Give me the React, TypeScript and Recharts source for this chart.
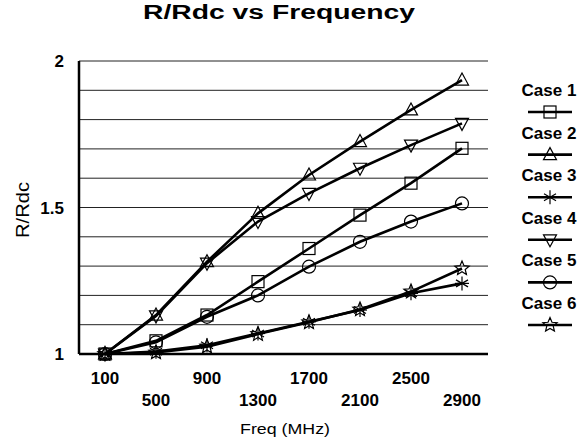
import React from "react";
import { LineChart, Line, XAxis, YAxis, CartesianGrid } from "recharts";

const freqs = ["100", "500", "900", "1300", "1700", "2100", "2500", "2900"];
const case1 = [1.0, 1.045, 1.133, 1.247, 1.36, 1.474, 1.583, 1.702];
const case2 = [1.0, 1.133, 1.315, 1.48, 1.611, 1.725, 1.833, 1.935];
const case3 = [1.0, 1.008, 1.03, 1.07, 1.11, 1.15, 1.207, 1.241];
const case4 = [1.0, 1.13, 1.31, 1.452, 1.548, 1.634, 1.713, 1.787];
const case5 = [1.0, 1.04, 1.127, 1.2, 1.298, 1.383, 1.452, 1.514];
const case6 = [1.0, 1.005, 1.025, 1.068, 1.108, 1.152, 1.213, 1.292];

const yTicks = [1, 1.5, 2];
const gridValues = [1.1, 1.2, 1.3, 1.4, 1.5, 1.6, 1.7, 1.8, 1.9, 2];

type Shape = "square" | "triUp" | "asterisk" | "triDown" | "circle" | "star";

const series: { key: string; name: string; values: number[]; shape: Shape }[] = [
  { key: "c1", name: "Case 1", values: case1, shape: "square" },
  { key: "c2", name: "Case 2", values: case2, shape: "triUp" },
  { key: "c3", name: "Case 3", values: case3, shape: "asterisk" },
  { key: "c4", name: "Case 4", values: case4, shape: "triDown" },
  { key: "c5", name: "Case 5", values: case5, shape: "circle" },
  { key: "c6", name: "Case 6", values: case6, shape: "star" },
];

const data = freqs.map((f, i) => {
  const row: Record<string, string | number> = { freq: f };
  series.forEach((s) => (row[s.key] = s.values[i]));
  return row;
});

function starPoints(cx: number, cy: number, r: number) {
  const pts: string[] = [];
  for (let i = 0; i < 10; i++) {
    const rad = i % 2 === 0 ? r : r * 0.45;
    const a = -Math.PI / 2 + (i * Math.PI) / 5;
    pts.push(`${cx + rad * Math.cos(a)},${cy + rad * Math.sin(a)}`);
  }
  return pts.join(" ");
}

function Marker({ shape, cx, cy }: { shape: Shape; cx: number; cy: number }) {
  const st = { stroke: "#000", strokeWidth: 1.2, fill: "none" };
  switch (shape) {
    case "square":
      return <rect x={cx - 6} y={cy - 6} width={12} height={12} {...st} />;
    case "triUp":
      return <polygon points={`${cx},${cy - 7} ${cx + 6.5},${cy + 5} ${cx - 6.5},${cy + 5}`} {...st} />;
    case "triDown":
      return <polygon points={`${cx},${cy + 7} ${cx + 6.5},${cy - 5} ${cx - 6.5},${cy - 5}`} {...st} />;
    case "circle":
      return <circle cx={cx} cy={cy} r={6.5} {...st} />;
    case "star":
      return <polygon points={starPoints(cx, cy, 7.5)} {...st} />;
    case "asterisk":
      return (
        <g {...st}>
          <line x1={cx} y1={cy - 7} x2={cx} y2={cy + 7} />
          <line x1={cx - 6} y1={cy - 3.5} x2={cx + 6} y2={cy + 3.5} />
          <line x1={cx - 6} y1={cy + 3.5} x2={cx + 6} y2={cy - 3.5} />
          <line x1={cx - 7} y1={cy} x2={cx + 7} y2={cy} />
        </g>
      );
  }
  return null;
}

const XTick = (props: any) => {
  const { x, y, payload, index } = props;
  return (
    <text
      x={x}
      y={y + (index % 2 === 0 ? 22 : 44)}
      textAnchor="middle"
      fontFamily="Liberation Sans, Arial, sans-serif"
      fontWeight="bold"
      fontSize={17}
      fill="#000"
    >
      {payload.value}
    </text>
  );
};

const font = "Liberation Sans, Arial, sans-serif";

export default function App() {
  return (
    <div style={{ position: "absolute", left: 0, top: 0, width: 587, height: 442, background: "#fff" }}>
      <LineChart width={587} height={442} data={data} margin={{ top: 61, right: 99, bottom: 28, left: 20 }}>
        <CartesianGrid
          yAxisId="left"
          vertical={false}
          horizontalValues={gridValues}
          stroke="#222"
          strokeWidth={1}
        />
        <XAxis
          dataKey="freq"
          height={60}
          padding={{ left: 26, right: 26 }}
          axisLine={{ stroke: "#000", strokeWidth: 2.5 }}
          tickLine={false}
          tick={<XTick />}
          interval={0}
        />
        <YAxis
          yAxisId="left"
          width={59}
          domain={[1, 2]}
          ticks={yTicks}
          axisLine={{ stroke: "#000", strokeWidth: 2.5 }}
          tickLine={false}
          tickMargin={9}
          tick={{ fill: "#000", fontFamily: font, fontWeight: "bold", fontSize: 17 }}
        />
        <YAxis
          yAxisId="right"
          orientation="right"
          width={0}
          domain={[1, 2]}
          ticks={yTicks}
          tick={false}
          tickLine={false}
          axisLine={{ stroke: "#222", strokeWidth: 1 }}
        />
        {series.map((s) => (
          <Line
            key={s.key}
            yAxisId="left"
            dataKey={s.key}
            name={s.name}
            type="linear"
            stroke="#000"
            strokeWidth={2.6}
            isAnimationActive={false}
            dot={(p: any) => (
              <g key={`${s.key}-${p.index}`}>
                <Marker shape={s.shape} cx={p.cx} cy={p.cy} />
              </g>
            )}
            activeDot={false}
          />
        ))}
      </LineChart>
      <svg width={587} height={442} style={{ position: "absolute", left: 0, top: 0, pointerEvents: "none" }}>
        <text x={279} y={19} textAnchor="middle" fontFamily={font} fontWeight="bold" fontSize={20} textLength={272} lengthAdjust="spacingAndGlyphs">
          R/Rdc vs Frequency
        </text>
        <text transform="translate(29,210) rotate(-90)" textAnchor="middle" fontFamily={font} fontSize={18} textLength={56} lengthAdjust="spacingAndGlyphs">
          R/Rdc
        </text>
        <text x={285} y={434} textAnchor="middle" fontFamily={font} fontSize={15} textLength={90} lengthAdjust="spacingAndGlyphs">
          Freq (MHz)
        </text>
        {series.map((s, i) => {
          const ty = 90 + i * 42.6;
          const my = 112 + i * 42.6;
          return (
            <g key={s.key}>
              <text x={549} y={ty + 6} textAnchor="middle" fontFamily={font} fontWeight="bold" fontSize={17}>
                {s.name}
              </text>
              <line x1={528} y1={my} x2={572} y2={my} stroke="#000" strokeWidth={2.6} />
              <Marker shape={s.shape} cx={550} cy={my} />
            </g>
          );
        })}
      </svg>
    </div>
  );
}
